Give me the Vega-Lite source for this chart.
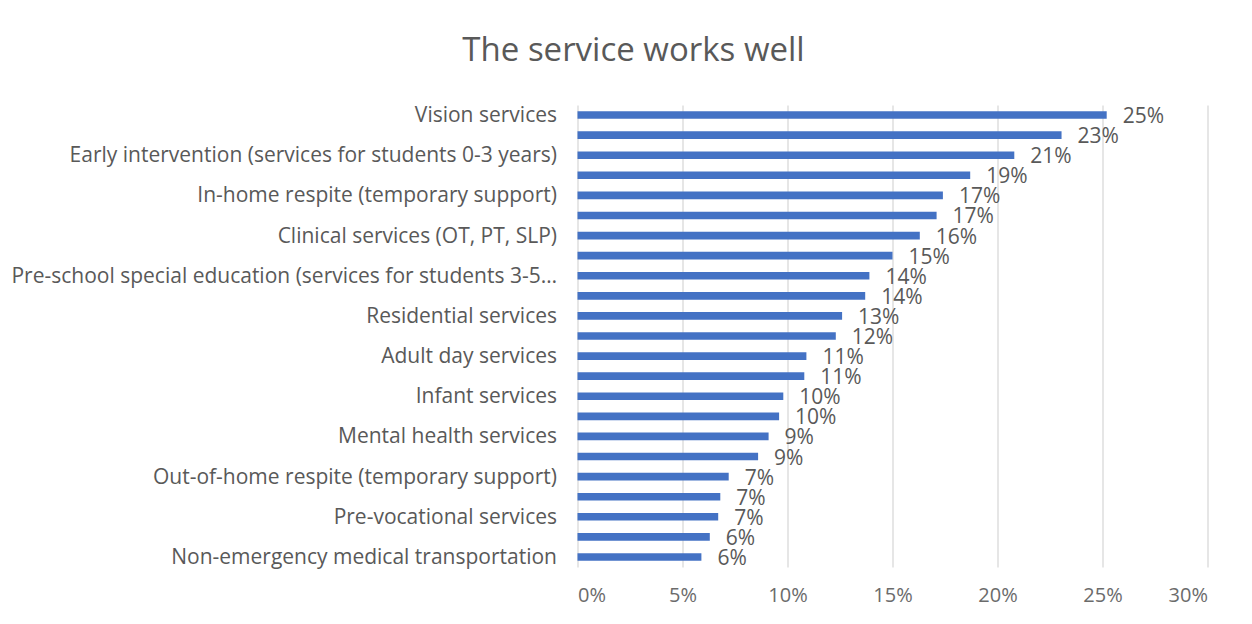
{
  "$schema": "https://vega.github.io/schema/vega-lite/v6.json",
  "width": 630,
  "height": 462,
  "autosize": {"type": "none"},
  "padding": {"left": 577.5, "top": 105, "right": 44.5, "bottom": 57},
  "background": "white",
  "title": {
    "text": "The service works well",
    "anchor": "middle",
    "frame": "group",
    "dx": -259,
    "offset": 37,
    "fontSize": 33,
    "font": "Open Sans",
    "fontWeight": "normal",
    "color": "#595959"
  },
  "data": {
    "values": [
      {"service": "Vision services", "pct": 0.252},
      {"service": "Other service 2", "pct": 0.2305},
      {"service": "Early intervention (services for students 0-3 years)", "pct": 0.208},
      {"service": "Other service 4", "pct": 0.187},
      {"service": "In-home respite (temporary support)", "pct": 0.174},
      {"service": "Other service 6", "pct": 0.171},
      {"service": "Clinical services (OT, PT, SLP)", "pct": 0.163},
      {"service": "Other service 8", "pct": 0.150},
      {"service": "Pre-school special education (services for students 3-5 years)", "pct": 0.139},
      {"service": "Other service 10", "pct": 0.137},
      {"service": "Residential services", "pct": 0.126},
      {"service": "Other service 12", "pct": 0.123},
      {"service": "Adult day services", "pct": 0.109},
      {"service": "Other service 14", "pct": 0.108},
      {"service": "Infant services", "pct": 0.098},
      {"service": "Other service 16", "pct": 0.096},
      {"service": "Mental health services", "pct": 0.091},
      {"service": "Other service 18", "pct": 0.086},
      {"service": "Out-of-home respite (temporary support)", "pct": 0.072},
      {"service": "Other service 20", "pct": 0.068},
      {"service": "Pre-vocational services", "pct": 0.067},
      {"service": "Other service 22", "pct": 0.063},
      {"service": "Non-emergency medical transportation", "pct": 0.059}
    ]
  },
  "encoding": {
    "y": {
      "field": "service",
      "type": "nominal",
      "sort": null,
      "scale": {"paddingInner": 0.62, "paddingOuter": 0.31},
      "axis": {
        "title": null,
        "ticks": false,
        "domain": false,
        "labelFont": "Open Sans",
        "labelFontSize": 21,
        "labelColor": "#595959",
        "labelPadding": 21,
        "labelLimit": 548,
        "labelOffset": 1,
        "labelExpr": "test(/^Other service/, datum.value) ? '' : datum.label"
      }
    },
    "x": {
      "field": "pct",
      "type": "quantitative",
      "scale": {"domain": [0, 0.3], "nice": false},
      "axis": {
        "title": null,
        "values": [0, 0.05, 0.1, 0.15, 0.2, 0.25, 0.3],
        "format": ".0%",
        "ticks": false,
        "domain": false,
        "grid": true,
        "gridColor": "#d9d9d9",
        "gridWidth": 1.3,
        "labelFont": "Open Sans",
        "labelFontSize": 20,
        "labelColor": "#6b6b6b",
        "labelPadding": 18
      }
    }
  },
  "layer": [
    {"mark": {"type": "bar", "color": "#4472C4"}},
    {
      "mark": {"type": "text", "align": "left", "baseline": "middle", "dx": 16, "dy": 2, "font": "Open Sans", "fontSize": 21, "color": "#595959"},
      "encoding": {"text": {"field": "pct", "type": "quantitative", "format": ".0%"}}
    }
  ],
  "config": {"view": {"stroke": null}}
}
